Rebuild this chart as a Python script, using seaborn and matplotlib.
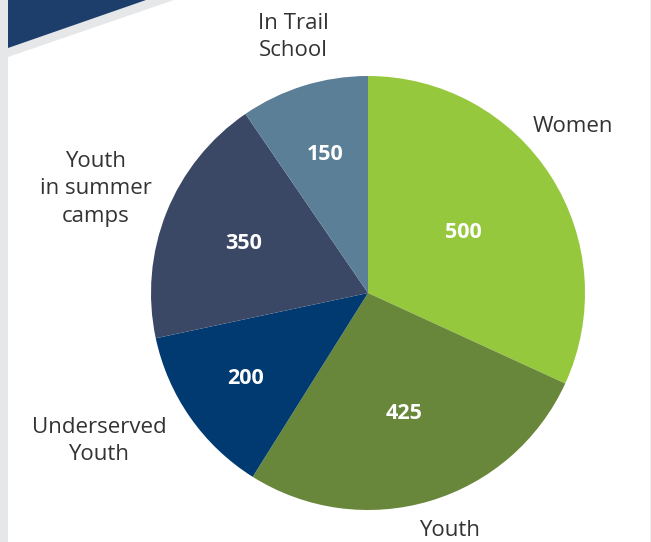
import numpy as np
import pandas as pd
import matplotlib.pyplot as plt
import matplotlib.patches as mpatches
import seaborn as sns

# data, clockwise from 12 o'clock
groups = ['Women', 'Youth', 'Underserved\nYouth', 'Youth\nin summer\ncamps', 'In Trail\nSchool']
participants = [500, 425, 200, 350, 150]
# slice sizes as drawn in the source graphic (the camps slice is drawn smaller than its label)
slice_sizes = [500, 425, 200, 295, 150]
colors = ['#96c83e', '#68873b', '#003a70', '#3a4866', '#5b7f96']

# label anchor points (pixels, from top-left) and value-label radial distances
label_xy = [(573, 127), (450, 531), (99, 441), (96, 189), (293, 37)]
value_dist = [0.52, 0.58, 0.69, 0.62, 0.67]

sns.set_theme(style='white')
plt.rcParams['font.family'] = ['Open Sans', 'DejaVu Sans']

W, H = 651, 542
fig = plt.figure(figsize=(W / 100, H / 100), dpi=100)
ax = fig.add_axes([0, 0, 1, 1])

# page decorations
ax.add_patch(mpatches.Rectangle((0, 0), 8, H, color='#e6e7e8', lw=0))
ax.add_patch(mpatches.Rectangle((649.5, 0), 1.5, H, color='#eeeeee', lw=0))
ax.add_patch(mpatches.Polygon([(8, H), (174, H), (8, H - 57)], color='#e6e7e8', lw=0))
ax.add_patch(mpatches.Polygon([(8, H), (146, H), (8, H - 48)], color='#1d3d6b', lw=0))

cx, cy, r = 368, H - 293, 217
wedges, texts = ax.pie(
    slice_sizes, colors=colors, startangle=90, counterclock=False,
    center=(cx, cy), radius=r, frame=True,
    wedgeprops=dict(linewidth=0))
ax.set_xlim(0, W)
ax.set_ylim(0, H)
ax.set_aspect('equal')
ax.axis('off')

for w, val, d in zip(wedges, participants, value_dist):
    mid = np.deg2rad((w.theta1 + w.theta2) / 2)
    ax.text(cx + d * r * np.cos(mid), cy + d * r * np.sin(mid), f'{val}',
            ha='center', va='center', color='white', fontsize=15.5,
            fontweight='bold')

for name, (x, y) in zip(groups, label_xy):
    ax.text(x, H - y, name, ha='center', va='center', fontsize=16,
            color='#333333', linespacing=1.42)

fig.savefig('out.png', dpi=100)
